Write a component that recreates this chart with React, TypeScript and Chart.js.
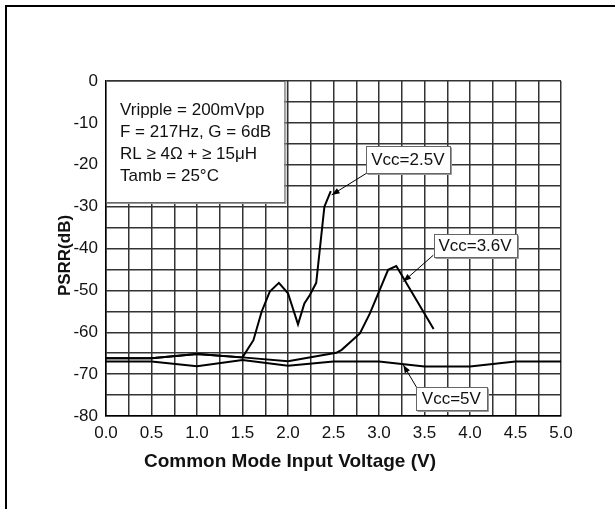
import React, { useEffect, useRef } from 'react';
import { Chart, registerables } from 'chart.js';

Chart.register(...registerables);

// ---------- data ----------
const vcc25X = [0, 0.5, 1.0, 1.5, 1.62, 1.71, 1.8, 1.9, 2.0, 2.11, 2.18, 2.24, 2.31, 2.4, 2.47];
const vcc25Y = [-66.2, -66.2, -65.2, -66.0, -61.9, -55.1, -50.3, -48.2, -50.7, -58.1, -53.1, -51.1, -48.2, -30.0, -26.3];

const vcc36X = [0, 0.5, 1.0, 1.5, 2.0, 2.53, 2.59, 2.79, 2.9, 3.0, 3.1, 3.19, 3.6];
const vcc36Y = [-66.2, -66.2, -65.2, -66.0, -66.9, -64.9, -64.2, -60.3, -55.5, -50.3, -45.1, -44.2, -59.2];

const vcc5X = [0, 0.5, 1.0, 1.5, 2.0, 2.5, 3.0, 3.5, 4.0, 4.5, 5.0];
const vcc5Y = [-67.0, -67.0, -68.1, -66.6, -68.0, -67.0, -67.0, -68.2, -68.2, -67.0, -67.0];

const xTickLabels = ['0.0', '0.5', '1.0', '1.5', '2.0', '2.5', '3.0', '3.5', '4.0', '4.5', '5.0'];
const yTickLabels = ['0', '-10', '-20', '-30', '-40', '-50', '-60', '-70', '-80'];

const infoLines = ['Vripple = 200mVpp', 'F = 217Hz, G = 6dB', 'RL \u2265 4\u03A9 + \u2265 15\u03BCH', 'Tamb = 25\u00B0C'];
const xTitle = 'Common Mode Input Voltage (V)';
const yTitle = 'PSRR(dB)';

// callouts: label, box centre (data units), arrow start and tip (data units)
const callouts = [
  { label: 'Vcc=2.5V', cx: 3.317, cy: -18.8, fx: 2.865, fy: -22.0, tx: 2.48, ty: -27.2 },
  { label: 'Vcc=3.6V', cx: 4.055, cy: -39.2, fx: 3.597, fy: -41.6, tx: 3.267, ty: -47.9 },
  { label: 'Vcc=5V', cx: 3.795, cy: -75.8, fx: 3.414, fy: -73.2, tx: 3.267, ty: -67.8 },
];
const calloutSizes = [[84, 27], [83, 23], [71, 23]];
const infoBox = { x0: 0, x1: 1.96, y0: 0, y1: -28.9, textX: 0.154 };

const FONT = "'Liberation Sans', Arial, Helvetica, sans-serif";

const toPts = (xs: number[], ys: number[]) => xs.map((x, i) => ({ x, y: ys[i] }));

const framePlugin = {
  id: 'frame',
  beforeDraw(chart: any) {
    const ctx = chart.ctx;
    ctx.save();
    ctx.fillStyle = '#fff';
    ctx.fillRect(0, 0, chart.width, chart.height);
    ctx.fillStyle = '#000';
    ctx.fillRect(5, 5, chart.width - 5, 2);
    ctx.fillRect(5, 5, 2, chart.height - 5);
    ctx.restore();
  },
};

const annotationPlugin = {
  id: 'notes',
  afterDraw(chart: any) {
    const { ctx, chartArea } = chart;
    const xs = chart.scales.x;
    const ys = chart.scales.y;
    ctx.save();

    // axis titles
    ctx.fillStyle = '#111';
    ctx.font = `bold 19px ${FONT}`;
    ctx.textAlign = 'center';
    ctx.textBaseline = 'middle';
    ctx.fillText(xTitle, chartArea.left + 184, chartArea.bottom + 46);
    ctx.save();
    ctx.translate(chartArea.left - 41, (chartArea.top + chartArea.bottom) / 2 + 7);
    ctx.rotate(-Math.PI / 2);
    ctx.font = `bold 17px ${FONT}`;
    ctx.fillText(yTitle, 0, 0);
    ctx.restore();

    // info box
    const bx0 = xs.getPixelForValue(infoBox.x0);
    const bx1 = xs.getPixelForValue(infoBox.x1);
    const by0 = ys.getPixelForValue(infoBox.y0);
    const by1 = ys.getPixelForValue(infoBox.y1);
    ctx.fillStyle = '#fff';
    ctx.fillRect(bx0, by0, bx1 - bx0, by1 - by0);
    ctx.strokeStyle = '#666';
    ctx.lineWidth = 1;
    ctx.strokeRect(bx0 + 0.5, by0 + 0.5, bx1 - bx0, by1 - by0);
    ctx.strokeStyle = '#999';
    ctx.beginPath();
    ctx.moveTo(bx1 + 1.5, by0 + 1);
    ctx.lineTo(bx1 + 1.5, by1 + 1.5);
    ctx.lineTo(bx0 + 1, by1 + 1.5);
    ctx.stroke();
    ctx.fillStyle = '#111';
    ctx.font = `17px ${FONT}`;
    ctx.textBaseline = 'middle';
    ctx.textAlign = 'left';
    const tx = xs.getPixelForValue(infoBox.textX);
    infoLines.forEach((line, i) => {
      ctx.fillText(line, tx, by0 + 29 + i * 22);
    });

    // callouts
    callouts.forEach((c, i) => {
      const [w, h] = calloutSizes[i];
      const cx = xs.getPixelForValue(c.cx);
      const cy = ys.getPixelForValue(c.cy);
      const fx = xs.getPixelForValue(c.fx);
      const fy = ys.getPixelForValue(c.fy);
      const px = xs.getPixelForValue(c.tx);
      const py = ys.getPixelForValue(c.ty);
      ctx.strokeStyle = '#000';
      ctx.lineWidth = 1;
      ctx.beginPath();
      ctx.moveTo(fx, fy);
      ctx.lineTo(px, py);
      ctx.stroke();
      const ang = Math.atan2(py - fy, px - fx);
      const L = 8, W = 3;
      ctx.fillStyle = '#000';
      ctx.beginPath();
      ctx.moveTo(px, py);
      ctx.lineTo(px - L * Math.cos(ang) + W * Math.sin(ang), py - L * Math.sin(ang) - W * Math.cos(ang));
      ctx.lineTo(px - L * Math.cos(ang) - W * Math.sin(ang), py - L * Math.sin(ang) + W * Math.cos(ang));
      ctx.closePath();
      ctx.fill();
      const x0 = Math.round(cx - w / 2) + 0.5;
      const y0 = Math.round(cy - h / 2) + 0.5;
      ctx.fillStyle = '#fff';
      ctx.fillRect(x0, y0, w, h);
      ctx.strokeStyle = '#666';
      ctx.strokeRect(x0, y0, w, h);
      ctx.strokeStyle = '#999';
      ctx.beginPath();
      ctx.moveTo(x0 + w + 1, y0 + 1);
      ctx.lineTo(x0 + w + 1, y0 + h + 1);
      ctx.lineTo(x0 + 1, y0 + h + 1);
      ctx.stroke();
      ctx.fillStyle = '#111';
      ctx.textAlign = 'center';
      ctx.textBaseline = 'middle';
      ctx.fillText(c.label, cx, cy + 1);
    });
    ctx.restore();
  },
};

export default function App() {
  const ref = useRef<HTMLCanvasElement | null>(null);

  useEffect(() => {
    if (!ref.current) return;
    const lineDs = (label: string, xs: number[], ys: number[]) => ({
      label,
      data: toPts(xs, ys),
      borderColor: '#000',
      backgroundColor: '#000',
      borderWidth: 2,
      pointRadius: 0,
      tension: 0,
      fill: false,
    });
    const chart = new Chart(ref.current, {
      type: 'line',
      data: {
        datasets: [
          lineDs('Vcc=2.5V', vcc25X, vcc25Y),
          lineDs('Vcc=3.6V', vcc36X, vcc36Y),
          lineDs('Vcc=5V', vcc5X, vcc5Y),
        ],
      },
      options: {
        responsive: false,
        animation: false,
        events: [],
        layout: { padding: { left: 40, right: 54, top: 81, bottom: 20 } },
        plugins: {
          legend: { display: false },
          tooltip: { enabled: false },
          title: { display: false },
        },
        scales: {
          x: {
            type: 'linear',
            min: 0,
            max: 5,
            afterFit: (s: any) => { s.height = 73; },
            ticks: {
              stepSize: 0.25,
              autoSkip: false,
              maxRotation: 0,
              padding: 7,
              color: '#111',
              font: { family: FONT, size: 17 },
              callback: (v: any) => {
                const idx = Math.round(Number(v) / 0.5);
                return Math.abs(Number(v) - idx * 0.5) < 1e-6 ? xTickLabels[idx] : '';
              },
            },
            grid: { color: '#333', lineWidth: 1.5, drawTicks: false },
            border: { color: '#000', width: 1.5 },
            title: { display: false },
          },
          y: {
            type: 'linear',
            min: -80,
            max: 0,
            afterFit: (s: any) => { s.width = 66; },
            ticks: {
              stepSize: 5,
              autoSkip: false,
              padding: 8,
              color: '#111',
              font: { family: FONT, size: 17 },
              callback: (v: any) => {
                const idx = Math.round(-Number(v) / 10);
                return Math.abs(Number(v) + idx * 10) < 1e-6 ? yTickLabels[idx] : '';
              },
            },
            grid: { color: '#333', lineWidth: 1.5, drawTicks: false },
            border: { color: '#000', width: 1.5 },
            title: { display: false },
          },
        },
      },
      plugins: [framePlugin, annotationPlugin],
    } as any);
    return () => chart.destroy();
  }, []);

  return (
    <div style={{ position: 'absolute', left: 0, top: 0, width: 615, height: 509, background: '#fff' }}>
      <canvas ref={ref} width={615} height={509} style={{ display: 'block' }} />
    </div>
  );
}
